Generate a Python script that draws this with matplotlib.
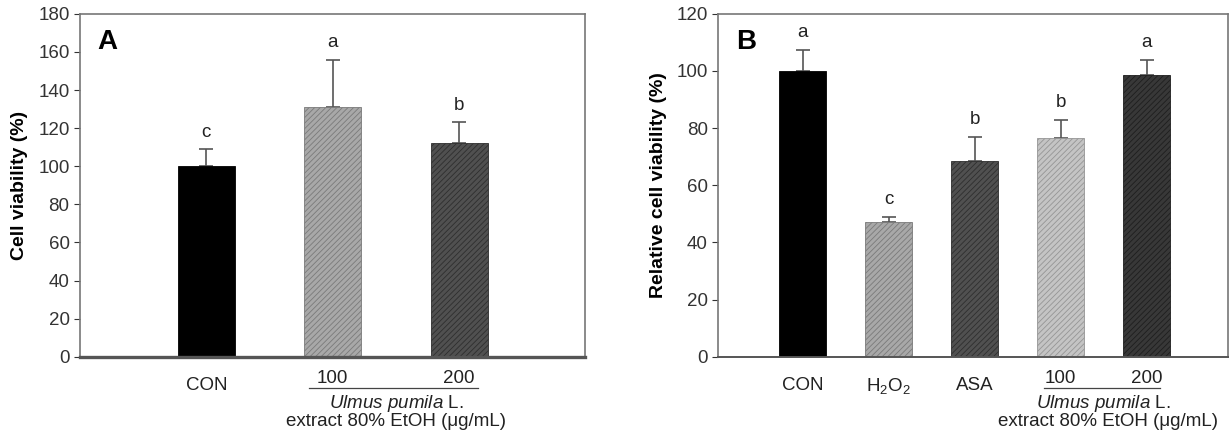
import matplotlib.pyplot as plt
import matplotlib.transforms as mtransforms

plt.rcParams['font.family'] = ['Liberation Sans', 'DejaVu Sans']
plt.rcParams['mathtext.fontset'] = 'custom'
plt.rcParams['mathtext.rm'] = 'Liberation Sans'
plt.rcParams['mathtext.it'] = 'Liberation Sans:italic'
plt.rcParams['hatch.linewidth'] = 0.6

# panel A data
a_labels = ['CON', '100', '200']
a_values = [100, 131, 112]
a_errors = [9, 25, 11]
a_letters = ['c', 'a', 'b']
a_colors = ['#000000', '#a8a8a8', '#505050']
a_edges = ['#000000', '#7a7a7a', '#2e2e2e']
a_hatch = ['', '//////', '//////']

# panel B data
b_labels = ['CON', 'H$_2$O$_2$', 'ASA', '100', '200']
b_values = [100, 47, 68.5, 76.5, 98.5]
b_errors = [7.5, 2, 8.5, 6.5, 5.5]
b_letters = ['a', 'c', 'b', 'b', 'a']
b_colors = ['#000000', '#a8a8a8', '#505050', '#c4c4c4', '#383838']
b_edges = ['#000000', '#7a7a7a', '#2e2e2e', '#959595', '#1e1e1e']
b_hatch = ['', '//////', '//////', '//////', '//////']

FS = 13.5

fig = plt.figure(figsize=(12.3, 4.32), dpi=100)
axA = fig.add_axes([0.065, 0.174, 0.411, 0.794])
axB = fig.add_axes([0.584, 0.174, 0.414, 0.794])


def draw_panel(ax, values, errors, letters, colors, edges, hatches, width, ymax, ystep, ylabel, tag, xlim, bottom_lw):
    x = list(range(1, len(values) + 1))
    for xi, v, c, ec, h in zip(x, values, colors, edges, hatches):
        ax.bar(xi, v, width=width, color=c, edgecolor=ec, hatch=h, linewidth=0.6, zorder=2)
    ax.errorbar(x, values, yerr=[[0] * len(errors), errors], fmt='none',
                ecolor='#555555', elinewidth=1.2, capsize=5, capthick=1.2, zorder=1)
    for xi, v, e, t in zip(x, values, errors, letters):
        ax.text(xi, v + e + ymax * 0.025, t, ha='center', va='bottom', fontsize=FS, color='#222222')
    ax.set_xlim(*xlim)
    ax.set_ylim(0, ymax)
    ax.set_yticks(range(0, ymax + 1, ystep))
    ax.set_xticks([])
    ax.tick_params(axis='y', labelsize=FS, colors='#333333', length=4, width=0.8, direction='out')
    for sp in ax.spines.values():
        sp.set_color('#777777')
        sp.set_linewidth(1.2)
    ax.spines['bottom'].set_linewidth(bottom_lw)
    ax.spines['bottom'].set_color('#555555')
    ax.set_ylabel(ylabel, fontsize=14, fontweight='bold', labelpad=7)
    ax.text(0.035, 0.955, tag, transform=ax.transAxes, fontsize=20, fontweight='bold', va='top')
    return x


xA = draw_panel(axA, a_values, a_errors, a_letters, a_colors, a_edges, a_hatch,
                0.45, 180, 20, 'Cell viability (%)', 'A', (0, 4), 2.4)
xB = draw_panel(axB, b_values, b_errors, b_letters, b_colors, b_edges, b_hatch,
                0.55, 120, 20, 'Relative cell viability (%)', 'B', (0.02, 5.94), 1.4)

# x axis labels
for ax, xs, labels, n_ctrl, shift in [(axA, xA, a_labels, 1, 0.0), (axB, xB, b_labels, 3, 0.05)]:
    trans = mtransforms.blended_transform_factory(ax.transData, ax.transAxes)
    for xi, lab in zip(xs[:n_ctrl], labels[:n_ctrl]):
        ax.text(xi, -0.085, lab, transform=trans, ha='center', va='center', fontsize=FS, color='#222222')
    for xi, lab in zip(xs[n_ctrl:], labels[n_ctrl:]):
        ax.text(xi, -0.062, lab, transform=trans, ha='center', va='center', fontsize=FS, color='#222222')
    x0, x1 = xs[n_ctrl] - 0.19, xs[-1] + 0.15
    ax.plot([x0, x1], [-0.092, -0.092], transform=trans, color='#444444', lw=0.9, clip_on=False)
    xm = (xs[n_ctrl] + xs[-1]) / 2
    ax.text(xm, -0.135, r'$\it{Ulmus\ pumila}$ L.', transform=trans, ha='center', va='center',
            fontsize=FS, color='#222222')
    ax.text(xm + shift, -0.188, 'extract 80% EtOH (\u03bcg/mL)', transform=trans,
            ha='center', va='center', fontsize=FS, color='#222222')

fig.savefig('out.png', dpi=100)
